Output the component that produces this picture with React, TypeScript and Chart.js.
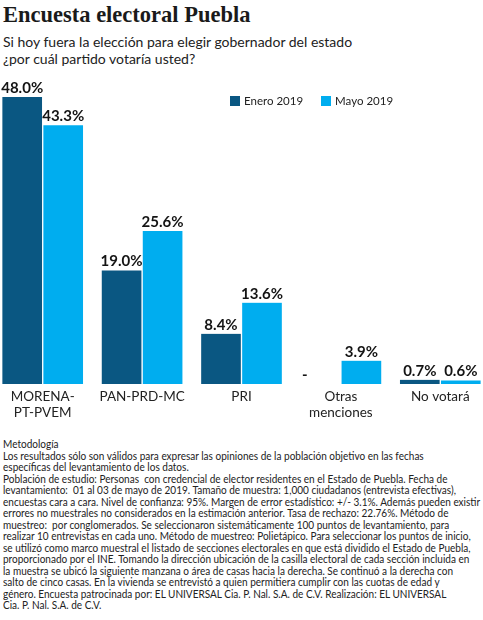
import React, { useEffect, useLayoutEffect, useRef, useState } from "react";
import { Chart, registerables } from "chart.js";

Chart.register(...registerables);

const categories: (string | string[])[] = [["MORENA-", "PT-PVEM"], "PAN-PRD-MC", "PRI", ["Otras", "menciones"], "No votará"];
const enero2019 = [48.0, 19.0, 8.4, 0, 0.7];
const mayo2019 = [43.3, 25.6, 13.6, 3.9, 0.6];
const seriesNames = ["Enero 2019", "Mayo 2019"];
const seriesColors = ["#0a5782", "#00adef"];

const titleText = "Encuesta electoral Puebla";
const subtitleLines = [
  "Si hoy fuera la elección para elegir gobernador del estado",
  "¿por cuál partido votaría usted?",
];
const noteLines = [
  "Metodología",
  "Los resultados sólo son válidos para expresar las opiniones de la población objetivo en las fechas",
  "específicas del levantamiento de los datos.",
  "Población de estudio: Personas  con credencial de elector residentes en el Estado de Puebla. Fecha de",
  "levantamiento:  01 al 03 de mayo de 2019. Tamaño de muestra: 1,000 ciudadanos (entrevista efectivas),",
  "encuestas cara a cara. Nivel de confianza: 95%. Margen de error estadístico: +/- 3.1%. Además pueden existir",
  "errores no muestrales no considerados en la estimación anterior. Tasa de rechazo: 22.76%. Método de",
  "muestreo:  por conglomerados. Se seleccionaron sistemáticamente 100 puntos de levantamiento, para",
  "realizar 10 entrevistas en cada uno. Método de muestreo: Polietápico. Para seleccionar los puntos de inicio,",
  "se utilizó como marco muestral el listado de secciones electorales en que está dividido el Estado de Puebla,",
  "proporcionado por el INE. Tomando la dirección ubicación de la casilla electoral de cada sección incluida en",
  "la muestra se ubicó la siguiente manzana o área de casas hacia la derecha. Se continuó a la derecha con",
  "salto de cinco casas. En la vivienda se entrevistó a quien permitiera cumplir con las cuotas de edad y",
  "género. Encuesta patrocinada por: EL UNIVERSAL Cia. P. Nal. S.A. de C.V. Realización: EL UNIVERSAL",
  "Cia. P. Nal. S.A. de C.V.",
];

const SANS = "Lato, 'Open Sans', sans-serif";

const valueLabels = {
  id: "valueLabels",
  afterDatasetsDraw(chart: any) {
    const ctx = chart.ctx;
    ctx.save();
    ctx.font = "bold 15px Lato";
    ctx.fillStyle = "#141414";
    ctx.textBaseline = "alphabetic";
    chart.data.datasets.forEach((ds: any, di: number) => {
      const meta = chart.getDatasetMeta(di);
      meta.data.forEach((bar: any, i: number) => {
        const v = ds.data[i];
        const p = bar.getProps(["x", "y", "width"], true);
        if (v === 0) {
          ctx.textAlign = "left";
          ctx.fillText("-", p.x - p.width / 2 + 2, p.y - 4);
        } else {
          ctx.textAlign = "center";
          ctx.fillText(v.toFixed(1) + "%", p.x, p.y - 4);
        }
      });
    });
    ctx.restore();
  },
};

function BarChart() {
  const ref = useRef<HTMLCanvasElement>(null);
  useEffect(() => {
    if (!ref.current) return;
    const chart = new Chart(ref.current, {
      type: "bar",
      data: {
        labels: categories,
        datasets: [
          {
            label: seriesNames[0],
            data: enero2019,
            backgroundColor: seriesColors[0],
            borderColor: "#ffffff",
            borderWidth: { left: 1, right: 1, top: 0, bottom: 0 },
            borderSkipped: false,
            barThickness: 41,
          },
          {
            label: seriesNames[1],
            data: mayo2019,
            backgroundColor: seriesColors[1],
            borderColor: "#ffffff",
            borderWidth: { left: 1, right: 1, top: 0, bottom: 0 },
            borderSkipped: false,
            barThickness: 41,
          },
        ],
      },
      options: {
        animation: false,
        responsive: true,
        maintainAspectRatio: false,
        layout: { padding: 0 },
        plugins: {
          legend: { display: false },
          tooltip: { enabled: false },
        },
        scales: {
          x: {
            grid: { display: false, drawTicks: false, tickLength: 0 },
            border: { display: false },
            ticks: {
              color: "#222",
              font: { family: "Lato", size: 13.5, lineHeight: 16 / 13.5 },
              padding: 5,
              maxRotation: 0,
              autoSkip: false,
            },
          },
          y: { display: false, min: 0, max: 50.85 },
        },
      },
      plugins: [valueLabels],
    });
    return () => chart.destroy();
  }, []);
  return (
    <div style={{ position: "absolute", left: -7, top: 80, width: 497, height: 346 }}>
      <canvas ref={ref} />
    </div>
  );
}

export default function App() {
  const lineRef = useRef<HTMLDivElement>(null);
  const [scale, setScale] = useState(1);
  useLayoutEffect(() => {
    if (lineRef.current) {
      const w = lineRef.current.scrollWidth;
      if (w > 0) setScale(477 / w);
    }
  }, []);
  return (
    <div style={{ position: "absolute", left: 0, top: 0, width: 483, height: 620, background: "#fff", overflow: "hidden", fontFamily: SANS, color: "#222" }}>
      <div style={{ position: "absolute", left: 3, top: 2, fontFamily: "'Liberation Serif', serif", fontWeight: 700, fontSize: 22.5, lineHeight: "26px", color: "#1a1a1a", whiteSpace: "nowrap" }}>
        {titleText}
      </div>
      <div style={{ position: "absolute", left: 3, top: 33, fontSize: 14, lineHeight: "17px", whiteSpace: "nowrap" }}>
        {subtitleLines.map((l, i) => (
          <div key={i}>{l}</div>
        ))}
      </div>
      <BarChart />
      <div style={{ position: "absolute", left: 230, top: 93, display: "flex", alignItems: "center", fontSize: 11.5, lineHeight: "16px", whiteSpace: "nowrap" }}>
        {seriesNames.map((n, i) => (
          <div key={i} style={{ display: "flex", alignItems: "center", marginRight: i === 0 ? 18 : 0 }}>
            <span style={{ display: "inline-block", width: 10, height: 10, background: seriesColors[i], marginRight: 4 }} />
            <span>{n}</span>
          </div>
        ))}
      </div>
      <div style={{ position: "absolute", left: 3, top: 439, fontSize: 10.5, lineHeight: "11.5px", whiteSpace: "pre", transform: `scaleX(${scale})`, transformOrigin: "left top", color: "#222" }}>
        {noteLines.map((l, i) => (
          <div key={i} ref={i === 5 ? lineRef : undefined} style={{ display: i === 5 ? "inline-block" : "block" }}>
            {l}
          </div>
        ))}
      </div>
    </div>
  );
}
